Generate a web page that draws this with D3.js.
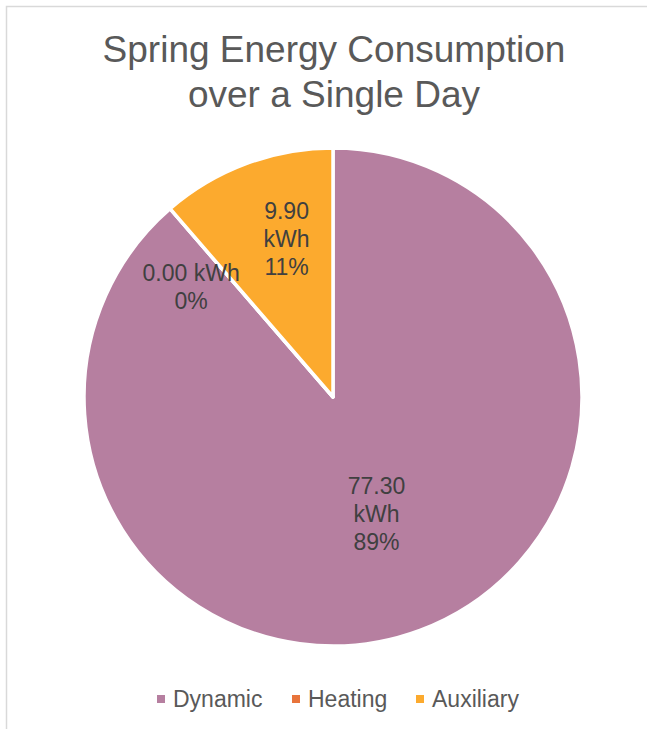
<!DOCTYPE html>
<html lang="en">
  <head>
    <meta charset="UTF-8" />
    <title>Spring Energy Consumption</title>
    <script src="https://d3js.org/d3.v7.min.js" charset="utf-8"></script>
    <style>
      body { margin: 0; background: #fff; }
      text { font-family: "Liberation Sans", Arial, sans-serif; }
    </style>
  </head>
  <body>
    <div id="chart"></div>
    <script>
      const categories = ["Dynamic", "Heating", "Auxiliary"];
      const values = [77.3, 0.0, 9.9];
      const colors = ["#b67fa0", "#e8743b", "#fcaa2e"];
      const titleLines = ["Spring Energy Consumption", "over a Single Day"];

      const width = 647;
      const height = 729;
      const cx = 333;
      const cy = 397;
      const radius = 249;

      const svg = d3
        .select("#chart")
        .append("svg")
        .attr("width", width)
        .attr("height", height);

      // chart area border (runs off the right and bottom edge)
      svg.append("rect")
        .attr("x", 6.5)
        .attr("y", 6.5)
        .attr("width", width + 20)
        .attr("height", height + 20)
        .attr("fill", "#fff")
        .attr("stroke", "#d9d9d9")
        .attr("stroke-width", 1.5);

      svg.append("g")
        .selectAll("text")
        .data(titleLines)
        .enter()
        .append("text")
        .attr("x", cx + 1)
        .attr("y", (d, i) => 62 + i * 45)
        .attr("text-anchor", "middle")
        .attr("fill", "#595959")
        .style("font-size", "37px")
        .text(d => d);

      const total = d3.sum(values);
      const pie = d3.pie().sort(null).value(d => d)(values);
      const arc = d3.arc().innerRadius(0).outerRadius(radius);

      const g = svg.append("g").attr("transform", `translate(${cx},${cy})`);

      g.selectAll("path")
        .data(pie)
        .enter()
        .append("path")
        .attr("d", arc)
        .attr("fill", (d, i) => colors[i])
        .attr("stroke", "#fff")
        .attr("stroke-width", 3.5)
        .attr("stroke-linejoin", "round");

      // data labels
      const labelLines = (d, i) => {
        const v = values[i].toFixed(2);
        const p = Math.round((values[i] / total) * 100) + "%";
        if (values[i] === 0) return [v + " kWh", p];
        return [v, "kWh", p];
      };

      const labelPos = d => {
        let a = (d.startAngle + d.endAngle) / 2;
        let r = 0.5 * radius;
        if (d.value === 0) {
          a -= 0.2;
          r = 0.72 * radius;
        } else if (d.endAngle - d.startAngle < 1) {
          a += 0.07;
          r = 0.66 * radius;
        }
        return [Math.sin(a) * r, -Math.cos(a) * r];
      };

      const lineH = 28;
      g.selectAll("text.label")
        .data(pie)
        .enter()
        .append("text")
        .attr("class", "label")
        .attr("text-anchor", "middle")
        .attr("fill", "#404040")
        .style("font-size", "23px")
        .each(function(d, i) {
          const [x, y] = labelPos(d);
          const lines = labelLines(d, i);
          const y0 = y - ((lines.length - 1) * lineH) / 2 + 8;
          d3.select(this)
            .selectAll("tspan")
            .data(lines)
            .enter()
            .append("tspan")
            .attr("x", x)
            .attr("y", (t, j) => y0 + j * lineH)
            .text(t => t);
        });

      // legend
      const legendX = [157, 292, 416];
      const legend = svg.append("g");
      const items = legend
        .selectAll("g")
        .data(categories)
        .enter()
        .append("g")
        .attr("transform", (d, i) => `translate(${legendX[i]},699)`);

      items.append("rect")
        .attr("x", 0)
        .attr("y", -4)
        .attr("width", 8)
        .attr("height", 8)
        .attr("fill", (d, i) => colors[i]);

      items.append("text")
        .attr("x", 16)
        .attr("y", 8)
        .attr("fill", "#595959")
        .style("font-size", "23px")
        .text(d => d);
    </script>
  </body>
</html>
